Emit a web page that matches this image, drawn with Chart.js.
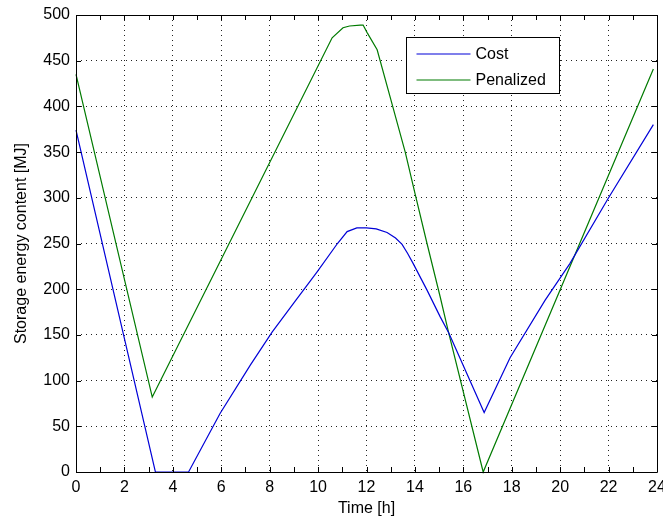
<!DOCTYPE html>
<html>
<head>
<meta charset="utf-8">
<script src="https://cdn.jsdelivr.net/npm/chart.js@4/dist/chart.umd.min.js"></script>
<style>
	html, body { margin: 0; padding: 0; background: #fff; }
	#wrap { width: 663px; height: 522px; }
</style>
</head>
<body>
<div id="wrap"><canvas id="storageChart" width="663" height="522"></canvas></div>
<script>
	'use strict';

	// Values
	const costTime   = [ 0, 3.28, 4.65, 5.95, 7.2, 8.1, 9.0, 9.96, 10.8, 11.2, 11.6, 12.0, 12.4, 12.85, 13.2, 13.47, 13.7, 13.93, 14.5, 15.04, 15.4, 16.86, 17.93, 19.38, 20.4, 22.0, 23.85 ];
	const costEnergy = [ 374, 0, 0, 64, 117, 153, 185, 219, 250, 263, 267, 267, 266, 262, 256, 249, 239, 228, 199, 170, 152, 65, 125, 188, 228, 300, 380 ];

	const penTime   = [ 0, 3.15, 10.58, 11.03, 11.3, 11.74, 11.86, 12.02, 12.44, 13.0, 13.6, 14.0, 14.5, 15.04, 15.37, 16.82, 23.85 ];
	const penEnergy = [ 435, 82, 475, 486, 488, 489, 489, 481, 462, 408, 350, 305, 250, 192, 155, 0, 441 ];

	const seriesNames  = [ 'Cost', 'Penalized' ];
	const seriesColors = [ '#0000d8', '#007a00' ];

	const xTicks = [ 0, 2, 4, 6, 8, 10, 12, 14, 16, 18, 20, 22, 24 ];
	const yTicks = [ 0, 50, 100, 150, 200, 250, 300, 350, 400, 450, 500 ];
	const xMinorStep = 1;

	const FONT = "'Liberation Sans', Arial, sans-serif";

	function toPoints( xs, ys ) {
		return xs.map( function ( x, i ) { return { x: x, y: ys[ i ] }; } );
	}

	// Matlab-style box, inward ticks and legend
	const matlabFrame = {
		id: 'matlabFrame',
		afterDraw: function ( chart ) {
			const ctx  = chart.ctx;
			const area = chart.chartArea;
			const xs   = chart.scales.x;
			const ys   = chart.scales.y;
			const tick = 5;

			ctx.save();
			ctx.strokeStyle = '#000';
			ctx.lineWidth   = 1;
			ctx.beginPath();
			ctx.rect( Math.round( area.left ) + 0.5, Math.round( area.top ) + 0.5,
				Math.round( area.right - area.left ), Math.round( area.bottom - area.top ) );
			ctx.stroke();

			ctx.beginPath();
			for ( let v = xs.min; v <= xs.max; v += xMinorStep ) {
				const px = Math.round( xs.getPixelForValue( v ) ) + 0.5;
				ctx.moveTo( px, area.bottom );
				ctx.lineTo( px, area.bottom - tick );
				ctx.moveTo( px, area.top );
				ctx.lineTo( px, area.top + tick );
			}
			yTicks.forEach( function ( v ) {
				const py = Math.round( ys.getPixelForValue( v ) ) + 0.5;
				ctx.moveTo( area.left, py );
				ctx.lineTo( area.left + tick, py );
				ctx.moveTo( area.right, py );
				ctx.lineTo( area.right - tick, py );
			} );
			ctx.stroke();

			// legend box
			const boxW = 153, boxH = 56;
			const bx = Math.round( area.right - 98 - boxW ) + 0.5;
			const by = Math.round( area.top + 22 ) + 0.5;
			ctx.fillStyle = '#fff';
			ctx.fillRect( bx, by, boxW, boxH );
			ctx.strokeRect( bx, by, boxW, boxH );

			ctx.font         = '16px ' + FONT;
			ctx.textBaseline = 'middle';
			ctx.textAlign    = 'left';
			seriesNames.forEach( function ( name, i ) {
				const ly = Math.round( by + 16 + i * 26 );
				ctx.strokeStyle = seriesColors[ i ];
				ctx.lineWidth   = 1.2;
				ctx.beginPath();
				ctx.moveTo( bx + 10, ly );
				ctx.lineTo( bx + 64, ly );
				ctx.stroke();
				ctx.fillStyle = '#000';
				ctx.fillText( name, bx + 69, ly + 1 );
			} );
			ctx.restore();
		},
	};

	new Chart( document.getElementById( 'storageChart' ), {
		type: 'line',
		data: {
			datasets: [ {
				label:       seriesNames[ 0 ],
				data:        toPoints( costTime, costEnergy ),
				borderColor: seriesColors[ 0 ],
				borderWidth: 1.2,
				pointRadius: 0,
				tension:     0,
				clip:        4,
			}, {
				label:       seriesNames[ 1 ],
				data:        toPoints( penTime, penEnergy ),
				borderColor: seriesColors[ 1 ],
				borderWidth: 1.2,
				pointRadius: 0,
				tension:     0,
				clip:        4,
			} ],
		},
		options: {
			responsive:          false,
			maintainAspectRatio: false,
			animation:           false,
			layout: { padding: { left: 0, right: 6, top: 15, bottom: 0 } },
			plugins: {
				legend:  { display: false },
				tooltip: { enabled: false },
			},
			scales: {
				x: {
					type: 'linear',
					min:  0,
					max:  24,
					afterFit: function ( scale ) {
						scale.height       = 50;
						scale.paddingLeft  = 0;
						scale.paddingRight = 0;
					},
					afterBuildTicks: function ( scale ) {
						scale.ticks = xTicks.map( function ( v ) { return { value: v }; } );
					},
					ticks: {
						color:   '#000',
						font:    { family: FONT, size: 16 },
						padding: 6,
						maxRotation: 0,
					},
					grid:   { color: '#222', drawTicks: false, lineWidth: 1 },
					border: { display: false, dash: [ 1, 4 ] },
					title: {
						display: true,
						text:    'Time [h]',
						color:   '#000',
						font:    { family: FONT, size: 16 },
						padding: { top: 0, bottom: 4 },
					},
				},
				y: {
					min: 0,
					max: 500,
					afterFit: function ( scale ) {
						scale.width         = 76;
						scale.paddingTop    = 0;
						scale.paddingBottom = 0;
					},
					afterBuildTicks: function ( scale ) {
						scale.ticks = yTicks.map( function ( v ) { return { value: v }; } );
					},
					ticks: {
						color:   '#000',
						font:    { family: FONT, size: 16 },
						padding: 6,
					},
					grid:   { color: '#222', drawTicks: false, lineWidth: 1 },
					border: { display: false, dash: [ 1, 4 ] },
					title: {
						display: true,
						text:    'Storage energy content [MJ]',
						color:   '#000',
						font:    { family: FONT, size: 16 },
						padding: { top: 12, bottom: 0 },
					},
				},
			},
		},
		plugins: [ matlabFrame ],
	} );
</script>
</body>
</html>
